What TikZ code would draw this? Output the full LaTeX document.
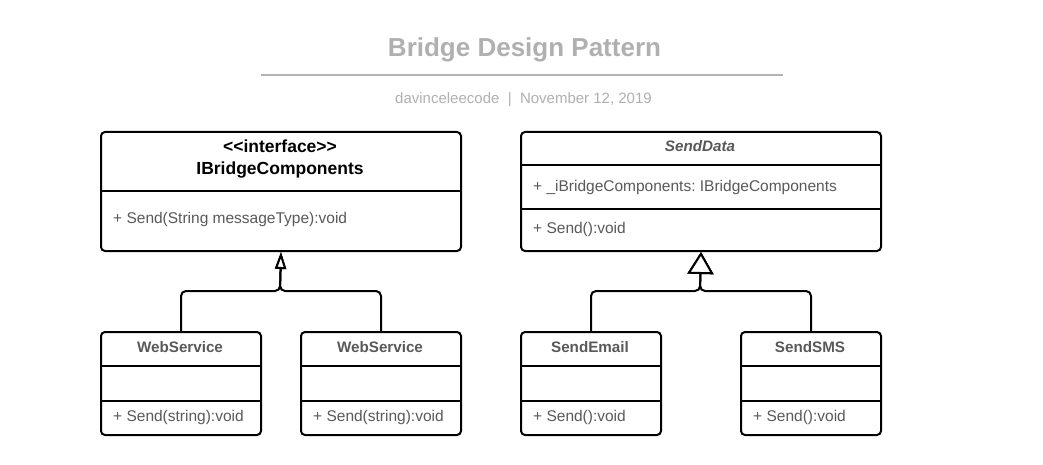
\documentclass[tikz,border=0pt]{standalone}
\usepackage{fontspec}
\setmainfont{Liberation Sans}
\usetikzlibrary{arrows.meta}
\definecolor{titlegray}{HTML}{B0B0B0}
\definecolor{rulegray}{HTML}{B3B3B3}
\definecolor{textgray}{HTML}{595959}
\frenchspacing
\tikzset{
  classbox/.style={draw, line width=2pt, rounded corners=4pt, anchor=north west, inner sep=0pt},
  divider/.style={line width=2pt},
  headtext/.style={font=\fontsize{17.5}{21}\selectfont\bfseries, anchor=base, inner sep=0pt},
  nametext/.style={font=\fontsize{15.2}{18}\selectfont\bfseries, text=textgray, anchor=base, inner sep=0pt},
  membertext/.style={font=\fontsize{15.5}{18}\selectfont, text=textgray, anchor=base west, inner sep=0pt},
  inherits/.style={line width=2pt, rounded corners=5pt, -{Triangle[open, fill=white, width=11pt, length=17pt]}},
  inheritsbig/.style={line width=2pt, rounded corners=5pt, -{Triangle[open, fill=white, width=26pt, length=22pt]}}
}
\begin{document}
\begin{tikzpicture}[x=1pt, y=-1pt]
  \useasboundingbox[fill=white] (0,0) rectangle (1043,465);
  % heading
  \node[font=\fontsize{26}{30}\selectfont\bfseries, text=titlegray, anchor=base, inner sep=0pt] (title) at (524.5,57) {Bridge Design Pattern};
  \coordinate (rulel) at (261,75.5);
  \coordinate (ruler) at (783,75.5);
  \draw[rulegray, line width=2pt] (rulel) -- (ruler);
  \node[font=\fontsize{15}{18}\selectfont, text=titlegray, anchor=base, inner sep=0pt] (sub) at (523.5,104) {davinceleecode\ \ |\ \ November 12, 2019};
  % boxes
  \node[classbox, minimum width=360, minimum height=119] (ibc) at (100,131) {};
  \node[classbox, minimum width=360, minimum height=119] (sd) at (520,131) {};
  \node[classbox, minimum width=160, minimum height=103] (ws1) at (100,331) {};
  \node[classbox, minimum width=160, minimum height=103] (ws2) at (300,331) {};
  \node[classbox, minimum width=140, minimum height=103] (se) at (520,331) {};
  \node[classbox, minimum width=140, minimum height=103] (ss) at (740,331) {};
  % dividers
  \draw[divider] (ibc.west |- 0,190.5) -- (ibc.east |- 0,190.5);
  \draw[divider] (sd.west |- 0,165.5) -- (sd.east |- 0,165.5);
  \draw[divider] (sd.west |- 0,208.5) -- (sd.east |- 0,208.5);
  \foreach \b in {ws1,ws2,se,ss} {
    \draw[divider] (\b.west |- 0,366) -- (\b.east |- 0,366);
    \draw[divider] (\b.west |- 0,401) -- (\b.east |- 0,401);
  }
  % texts
  \node[headtext] (ibcst) at (280,153) {<\kern0pt<interface>\kern0pt>};
  \node[headtext] (ibcname) at (280,175) {IBridgeComponents};
  \node[membertext] (ibcop) at (113,223) {+ Send(String messageType):void};
  \node[nametext, font=\fontsize{15.2}{18}\selectfont\bfseries\itshape] (sdname) at (700,152) {SendData};
  \node[membertext] (sdattr) at (533,191) {+ \_iBridgeComponents: IBridgeComponents};
  \node[membertext] (sdop) at (533,233) {+ Send():void};
  \node[nametext] (ws1name) at (180,352) {WebService};
  \node[nametext] (ws2name) at (380,352) {WebService};
  \node[nametext] (sename) at (590,352) {SendEmail};
  \node[nametext] (ssname) at (810,352) {SendSMS};
  \node[membertext] (ws1op) at (113,421) {+ Send(string):void};
  \node[membertext] (ws2op) at (313,421) {+ Send(string):void};
  \node[membertext] (seop) at (533,421) {+ Send():void};
  \node[membertext] (ssop) at (753,421) {+ Send():void};
  % generalisations
  \coordinate (jl) at (280,291);
  \coordinate (jr) at (700,291);
  \draw[inherits] (ws1.north) |- (jl) -- (ibc.south);
  \draw[inherits] (ws2.north) |- (jl) -- (ibc.south);
  \draw[inheritsbig] (se.north) |- (jr) -- (sd.south);
  \draw[inheritsbig] (ss.north) |- (jr) -- (sd.south);
\end{tikzpicture}
\end{document}
